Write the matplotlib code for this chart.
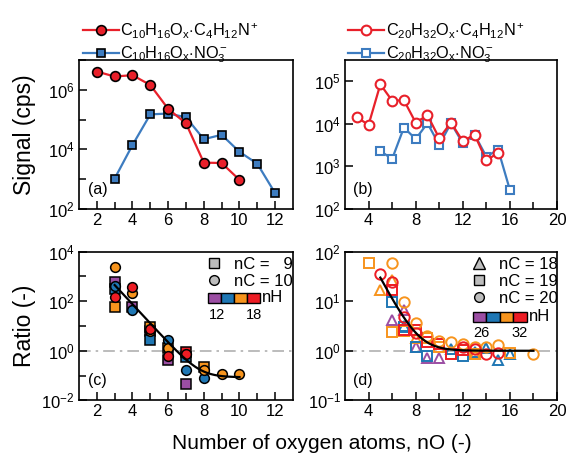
import matplotlib
matplotlib.use("Agg")
import matplotlib.pyplot as plt
import numpy as np
from matplotlib.lines import Line2D
from matplotlib.patches import Rectangle
from matplotlib.ticker import LogFormatterSciNotation, NullFormatter

plt.rcParams['font.family'] = ['Liberation Sans', 'DejaVu Sans']
plt.rcParams['mathtext.fontset'] = 'custom'
plt.rcParams['mathtext.rm'] = 'Liberation Sans'
plt.rcParams['mathtext.it'] = 'Liberation Sans:italic'
plt.rcParams['mathtext.bf'] = 'Liberation Sans:bold'

RED = '#e8202a'
BLUE = '#3d7cc0'
H_COLORS = ['#9b4ea3', '#1f77b4', '#f7941d', '#ed1c24']

# (a) C10 monomers, signal vs nO
nO_a_amine = [2, 3, 4, 5, 6, 7, 8, 9, 10]
sig_a_amine = [4.1e6, 2.8e6, 3.1e6, 1.45e6, 2.3e5, 7.5e4, 3.6e3, 3.5e3, 9.5e2]
nO_a_nitrate = [3, 4, 5, 6, 7, 8, 9, 10, 11, 12]
sig_a_nitrate = [1.05e3, 1.4e4, 1.5e5, 1.6e5, 1.2e5, 2.2e4, 3.1e4, 8.3e3, 3.3e3, 3.4e2]

# (b) C20 dimers
nO_b_amine = [3, 4, 5, 6, 7, 8, 9, 10, 11, 12, 13, 14, 15]
sig_b_amine = [1.43e4, 9.5e3, 8.5e4, 3.5e4, 3.6e4, 1.07e4, 1.6e4, 4.6e3,
               1.07e4, 3.9e3, 5.6e3, 1.38e3, 2.1e3]
nO_b_nitrate = [5, 6, 7, 8, 9, 10, 11, 12, 13, 14, 15, 16]
sig_b_nitrate = [2.3e3, 1.5e3, 8.2e3, 4.4e3, 1.04e4, 3.2e3, 1.04e4, 3.5e3,
                 5.6e3, 1.7e3, 2.5e3, 2.8e2]

# (c) ratio amine/nitrate for C9 (squares) and C10 (circles), by nH
c_n9_h12 = ([3, 4, 5, 6, 7], [600, 60, 6.0, 0.42, 0.044])
c_n9_h14 = ([3, 5, 7], [300, 2.6, 0.55])
c_n9_h16 = ([3, 5, 6, 8], [56, 9.5, 1.3, 0.23])
c_n9_h18 = ([7], [0.9])
c_n10_h14 = ([3, 4, 6, 7, 8], [400, 44, 2.6, 0.16, 0.077])
c_n10_h16 = ([3, 4, 5, 6, 8, 9, 10], [2500, 220, 6.0, 1.3, 0.17, 0.115, 0.115])
c_n10_h18 = ([3, 4, 5, 6, 7], [150, 380, 7.5, 0.6, 0.75])

# (d) ratio for C18 (triangles), C19 (squares), C20 (circles), by nH
d_n18_h26 = ([6, 7, 8, 9, 10], [4.2, 6.5, 1.2, 0.72, 0.72])
d_n18_h28 = ([7, 11, 13, 14, 15, 16], [3.2, 1.1, 0.95, 1.15, 0.65, 0.85])
d_n18_h30 = ([5, 6, 8, 13], [17, 27, 1.8, 0.85])
d_n19_h28 = ([6, 7, 8, 9, 12], [9.5, 3.0, 1.17, 0.8, 0.78])
d_n19_h30 = ([4, 6, 7, 9, 10, 13, 16], [60, 2.4, 2.5, 1.85, 1.2, 0.85, 0.9])
d_n19_h32 = ([6, 7, 8, 9, 10, 11, 12], [17, 2.6, 2.6, 1.5, 1.35, 0.85, 1.05])
d_n20_h30 = ([6, 7, 8, 9, 10, 11, 12, 13, 14, 15, 18],
             [58, 9.5, 3.7, 2.0, 1.6, 1.5, 1.38, 1.2, 1.2, 1.3, 0.85])
d_n20_h32 = ([5, 6, 7, 8, 12, 13, 14, 15], [36, 24, 4.8, 2.3, 1.2, 1.08, 0.88, 0.9])

# exponential decay fits: y0 + A*exp(-(x - x0)/tau)
fit_c = dict(y0=0.085, A=450.0, x0=3.0, tau=0.56, xmax=10.0)
fit_d = dict(y0=1.0, A=29.0, x0=5.0, tau=0.97, xmax=18.0)


def exp_fit(p):
    x = np.linspace(p['x0'], p['xmax'], 200)
    return x, p['y0'] + p['A'] * np.exp(-(x - p['x0']) / p['tau'])


def style_axis(ax, xmaj, xmin, ylim, ymaj, ymin, xlim):
    ax.set_yscale('log')
    ax.set_xlim(*xlim)
    ax.set_ylim(*ylim)
    ax.set_xticks(xmaj)
    ax.set_xticks(xmin, minor=True)
    ax.set_yticks(ymaj)
    ax.set_yticks(ymin, minor=True)
    ax.yaxis.set_major_formatter(LogFormatterSciNotation())
    ax.yaxis.set_minor_formatter(NullFormatter())
    ax.tick_params(which='both', direction='in', width=1.1, labelsize=12, pad=3)
    ax.tick_params(which='major', length=6)
    ax.tick_params(which='minor', length=5)
    for s in ax.spines.values():
        s.set_linewidth(1.2)


def nh_key(ax, x0, y0, w, h, lo, hi):
    cw = w / 4
    for i, col in enumerate(H_COLORS):
        ax.add_patch(Rectangle((x0 + i * cw, y0), cw, h, transform=ax.transAxes,
                               facecolor=col, edgecolor='black', lw=1.0,
                               clip_on=False, zorder=6))
    ax.text(x0 + w + 0.01, y0 + h / 2, 'nH', transform=ax.transAxes,
            ha='left', va='center', fontsize=12)
    ax.text(x0 + cw / 2 + 0.01, y0 - 0.03, lo, transform=ax.transAxes,
            ha='center', va='top', fontsize=10.5)
    ax.text(x0 + 3.5 * cw, y0 - 0.03, hi, transform=ax.transAxes,
            ha='center', va='top', fontsize=10.5)


def marker_legend(ax, handles, labels):
    ax.legend(handles=handles, labels=labels, loc='upper left',
              bbox_to_anchor=(0.555, 1.022), frameon=False, fontsize=12,
              handlelength=1.0, handletextpad=0.7, borderpad=0, labelspacing=0.12)


fig = plt.figure(figsize=(5.67, 4.61), dpi=100)
ax_a = fig.add_axes([0.1393, 0.5466, 0.3774, 0.3232])
ax_b = fig.add_axes([0.6085, 0.5466, 0.3739, 0.3232])
ax_c = fig.add_axes([0.1393, 0.1317, 0.3774, 0.3223])
ax_d = fig.add_axes([0.6085, 0.1317, 0.3739, 0.3223])

# (a)
la1, = ax_a.plot(nO_a_amine, sig_a_amine, '-o', color=RED, lw=1.6, ms=7,
                 mfc=RED, mec='black', mew=1.2,
                 label=r'C$_{10}$H$_{16}$O$_\mathrm{x}$$\cdot$C$_4$H$_{12}$N$^+$')
la2, = ax_a.plot(nO_a_nitrate, sig_a_nitrate, '-s', color=BLUE, lw=1.6, ms=6,
                 mfc=BLUE, mec='black', mew=1.2,
                 label=r'C$_{10}$H$_{16}$O$_\mathrm{x}$$\cdot$NO$_3^-$')
la2.set_zorder(2)
la1.set_zorder(3)
style_axis(ax_a, range(2, 13, 2), range(3, 13, 2), (1e2, 1e7),
           [1e2, 1e4, 1e6], [1e3, 1e5, 1e7], (1, 13))
ax_a.text(0.04, 0.13, '(a)', transform=ax_a.transAxes, fontsize=11.5, va='center')
fig.legend(handles=[la1, la2], loc='upper left', bbox_to_anchor=(0.132, 0.971),
           frameon=False, fontsize=11.7, handlelength=2.2, handletextpad=0.1,
           borderpad=0, labelspacing=0.22)

# (b)
lb1, = ax_b.plot(nO_b_amine, sig_b_amine, '-o', color=RED, lw=1.6, ms=7,
                 mfc='white', mec=RED, mew=1.5,
                 label=r'C$_{20}$H$_{32}$O$_\mathrm{x}$$\cdot$C$_4$H$_{12}$N$^+$')
lb2, = ax_b.plot(nO_b_nitrate, sig_b_nitrate, '-s', color=BLUE, lw=1.6, ms=6,
                 mfc='white', mec=BLUE, mew=1.5,
                 label=r'C$_{20}$H$_{32}$O$_\mathrm{x}$$\cdot$NO$_3^-$')
lb2.set_zorder(2)
lb1.set_zorder(3)
style_axis(ax_b, range(4, 21, 4), range(6, 21, 4), (1e2, 10 ** 5.5),
           [1e2, 1e3, 1e4, 1e5], [], (2, 20))
ax_b.text(0.04, 0.13, '(b)', transform=ax_b.transAxes, fontsize=11.5, va='center')
fig.legend(handles=[lb1, lb2], loc='upper left', bbox_to_anchor=(0.600, 0.971),
           frameon=False, fontsize=11.7, handlelength=2.2, handletextpad=0.1,
           borderpad=0, labelspacing=0.22)

# (c)
ax_c.axhline(1, color='#b0b0b0', lw=1.2, dashes=(7, 3, 1.5, 3), zorder=1)
c_sets = [(c_n9_h12, 's', 0), (c_n9_h14, 's', 1), (c_n9_h16, 's', 2), (c_n9_h18, 's', 3),
          (c_n10_h14, 'o', 1), (c_n10_h16, 'o', 2), (c_n10_h18, 'o', 3)]
for (xs, ys), m, k in c_sets:
    ax_c.plot(xs, ys, ls='none', marker=m, ms=7 if m == 'o' else 6.5,
              mfc=H_COLORS[k], mec='black', mew=1.1, zorder=3)
xf, yf = exp_fit(fit_c)
ax_c.plot(xf, yf, color='black', lw=1.6, zorder=5)
style_axis(ax_c, range(2, 13, 2), range(3, 13, 2), (1e-2, 1e4),
           [1e-2, 1e0, 1e2, 1e4], [1e-1, 1e1, 1e3], (1, 13))
ax_c.text(0.04, 0.13, '(c)', transform=ax_c.transAxes, fontsize=11.5, va='center')
marker_legend(ax_c,
              [Line2D([], [], ls='none', marker='s', ms=6.5, mfc='#bdbdbd', mec='black', mew=1),
               Line2D([], [], ls='none', marker='o', ms=7, mfc='#bdbdbd', mec='black', mew=1)],
              ['nC =   9', 'nC = 10'])
nh_key(ax_c, 0.603, 0.653, 0.243, 0.071, '12', '18')

# (d)
ax_d.axhline(1, color='#b0b0b0', lw=1.2, dashes=(7, 3, 1.5, 3), zorder=1)
d_sets = [(d_n18_h26, '^', 0), (d_n18_h28, '^', 1), (d_n18_h30, '^', 2),
          (d_n19_h28, 's', 1), (d_n19_h30, 's', 2), (d_n19_h32, 's', 3),
          (d_n20_h30, 'o', 2), (d_n20_h32, 'o', 3)]
for (xs, ys), m, k in d_sets:
    ax_d.plot(xs, ys, ls='none', marker=m, ms=7.5 if m != 's' else 6.5,
              mfc='none', mec=H_COLORS[k], mew=1.4, zorder=3)
xf, yf = exp_fit(fit_d)
ax_d.plot(xf, yf, color='black', lw=1.6, zorder=5)
style_axis(ax_d, range(4, 21, 4), range(6, 21, 4), (1e-1, 1e2),
           [1e-1, 1e0, 1e1, 1e2], [], (2, 20))
ax_d.text(0.04, 0.13, '(d)', transform=ax_d.transAxes, fontsize=11.5, va='center')
marker_legend(ax_d,
              [Line2D([], [], ls='none', marker='^', ms=8, mfc='#bdbdbd', mec='black', mew=1),
               Line2D([], [], ls='none', marker='s', ms=6.5, mfc='#bdbdbd', mec='black', mew=1),
               Line2D([], [], ls='none', marker='o', ms=7, mfc='#bdbdbd', mec='black', mew=1)],
              ['nC = 18', 'nC = 19', 'nC = 20'])
nh_key(ax_d, 0.603, 0.530, 0.254, 0.067, '26', '32')

fig.text(0.044, 0.708, 'Signal (cps)', rotation=90, ha='center', va='center', fontsize=16.5)
fig.text(0.044, 0.293, 'Ratio (-)', rotation=90, ha='center', va='center', fontsize=16.5)
fig.text(0.567, 0.026, 'Number of oxygen atoms, nO (-)', ha='center', va='baseline', fontsize=15)

fig.savefig('out.png', dpi=100)
